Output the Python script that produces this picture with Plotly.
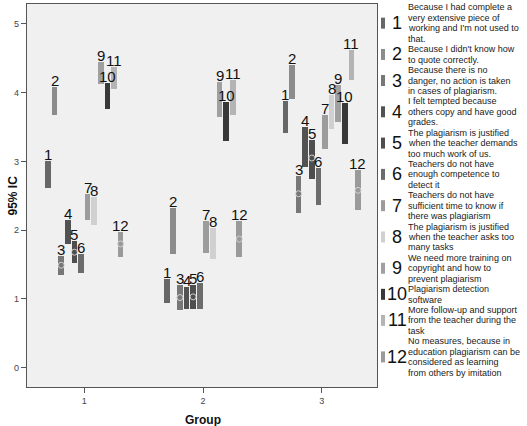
import plotly.graph_objects as go

# ---- data -------------------------------------------------------------
groups = [1, 2, 3]
item_ids = ["1", "2", "3", "4", "5", "6", "7", "8", "9", "10", "11", "12"]

ci_low_group1 = [2.62, 3.68, 1.35, 1.80, 1.52, 1.38, 2.15, 2.08, 4.13, 3.76, 4.05, 1.61]
ci_high_group1 = [3.01, 4.08, 1.63, 2.15, 1.85, 1.66, 2.53, 2.49, 4.45, 4.14, 4.38, 1.98]
ci_low_group2 = [0.94, 1.66, 0.84, 0.85, 0.85, 0.85, 1.67, 1.58, 3.64, 3.30, 3.68, 1.61]
ci_high_group2 = [1.29, 2.33, 1.21, 1.17, 1.20, 1.23, 2.14, 2.03, 4.16, 3.87, 4.18, 2.14]
ci_low_group3 = [3.41, 3.91, 2.25, 2.92, 2.75, 2.36, 3.18, 3.47, 3.57, 3.26, 4.18, 2.29]
ci_high_group3 = [3.88, 4.40, 2.79, 3.50, 3.31, 2.90, 3.68, 3.97, 4.11, 3.85, 4.62, 2.87]

# visible mean markers (item number -> mean per group)
mean_items = [3, 5, 12]
mean_group1 = [1.49, 1.68, 1.80]
mean_group2 = [1.02, 1.03, 1.87]
mean_group3 = [2.53, 3.05, 2.58]

legend_texts = [
    ["Because I had complete a", "very extensive piece of", "working and I'm not used to", "that."],
    ["Because I didn't know how", "to quote correctly."],
    ["Because there is no", "danger, no action is taken", "in cases of plagiarism."],
    ["I felt tempted because", "others copy and have good", "grades."],
    ["The plagiarism is justified", "when the teacher demands", "too much work of us."],
    ["Teachers do not have", "enough competence to", "detect it"],
    ["Teachers do not have", "sufficient time to know if", "there was plagiarism"],
    ["The plagiarism is justified", "when the teacher asks too", "many tasks"],
    ["We need more training on", "copyright and how to", "prevent plagiarism"],
    ["Plagiarism detection", "software"],
    ["More follow-up and support", "from the teacher during the", "task"],
    ["No measures, because in", "education plagiarism can be", "considered as learning",
     "from others by imitation"],
]

x_tick_labels = ["1", "2", "3"]
y_ticks = [0, 1, 2, 3, 4, 5]

# ---- styling ---------------------------------------------------------
colors = ["#676767", "#8c8c8c", "#777777", "#525252", "#4e4e4e", "#6c6c6c",
          "#9c9c9c", "#d0d0d0", "#a0a0a0", "#383838", "#b4b4b4", "#9a9a9a"]
FONT = "Liberation Sans, Arial, sans-serif"
W, H = 527, 426
ML, MR, MT, MB = 27, 150, 4, 39
SPACING = 0.0556
BAR_W = 0.048

lows = [ci_low_group1, ci_low_group2, ci_low_group3]
highs = [ci_high_group1, ci_high_group2, ci_high_group3]
means = [mean_group1, mean_group2, mean_group3]

fig = go.Figure()
annotations = []

for k, item in enumerate(item_ids):
    off = (k - 5.5) * SPACING
    xs = [g + off for g in groups]
    base = [lows[gi][k] for gi in range(3)]
    length = [highs[gi][k] - lows[gi][k] for gi in range(3)]
    fig.add_trace(go.Bar(
        x=xs, y=length, base=base, width=BAR_W,
        marker=dict(color=colors[k], line=dict(width=0)),
        showlegend=False, name=item,
    ))
    for gi in range(3):
        annotations.append(dict(
            x=xs[gi], y=highs[gi][k], xref="x", yref="y",
            text=item, showarrow=False, xanchor="center", yanchor="bottom",
            yshift=-4, font=dict(family=FONT, size=15, color="#111111"),
        ))

# mean markers
mx, my = [], []
for gi, g in enumerate(groups):
    for j, it in enumerate(mean_items):
        mx.append(g + (it - 1 - 5.5) * SPACING)
        my.append(means[gi][j])
fig.add_trace(go.Scatter(
    x=mx, y=my, mode="markers",
    marker=dict(symbol="circle-open", size=6, color="#cfcfcf", line=dict(width=1)),
    showlegend=False,
))

# ---- legend (manual, SPSS-style) -------------------------------------
plot_h = H - MT - MB
def py_to_paper(py):
    return (H - MB - py) / plot_h

line_pitch = 10.43
first_line = 7.5
line_idx = 0
shapes = []
for k, lines in enumerate(legend_texts):
    start = line_idx
    for ln in lines:
        py = first_line + line_idx * line_pitch
        annotations.append(dict(
            x=1, xref="paper", xshift=29, y=py_to_paper(py), yref="paper",
            text=ln, showarrow=False, xanchor="left", yanchor="middle",
            font=dict(family=FONT, size=9, color="#1a1a1a"),
        ))
        line_idx += 1
    center_py = first_line + (start + (len(lines) - 1) / 2) * line_pitch
    cy = py_to_paper(center_py)
    annotations.append(dict(
        x=1, xref="paper", xshift=20, y=cy, yref="paper",
        text=item_ids[k], showarrow=False, xanchor="center", yanchor="middle",
        font=dict(family=FONT, size=18, color="#111111"),
    ))
    shapes.append(dict(
        type="rect", xref="paper", yref="paper",
        xsizemode="pixel", ysizemode="pixel",
        xanchor=1, yanchor=cy, x0=4, x1=8, y0=-5.5, y1=5.5,
        fillcolor=colors[k], line=dict(width=0),
    ))

# axis titles
annotations.append(dict(
    x=0, xref="paper", xshift=-15, y=0.5, yref="paper", text="<b>95% IC</b>",
    textangle=-90, showarrow=False, xanchor="center", yanchor="middle",
    font=dict(family=FONT, size=12, color="#111111"),
))
annotations.append(dict(
    x=(2 - 0.517) / (3.466 - 0.517), xref="paper", y=0, yref="paper", yshift=-33,
    text="<b>Group</b>", showarrow=False, xanchor="center", yanchor="middle",
    font=dict(family=FONT, size=12, color="#111111"),
))

fig.update_layout(
    width=W, height=H,
    margin=dict(l=ML, r=MR, t=MT, b=MB, pad=0),
    paper_bgcolor="white", plot_bgcolor="#f0f0f0",
    barmode="overlay", bargap=0,
    annotations=annotations, shapes=shapes,
    font=dict(family=FONT),
    xaxis=dict(
        range=[0.517, 3.466], tickvals=groups, ticktext=x_tick_labels,
        showgrid=False, zeroline=False, showline=True, mirror=True,
        linecolor="#555555", linewidth=1.3, ticks="outside", ticklen=5,
        tickcolor="#555555", tickfont=dict(family=FONT, size=9, color="#444444"),
    ),
    yaxis=dict(
        range=[-0.281, 5.29], tickvals=y_ticks,
        showgrid=False, zeroline=False, showline=True, mirror=True,
        linecolor="#555555", linewidth=1.3, ticks="outside", ticklen=5,
        tickcolor="#555555", tickfont=dict(family=FONT, size=9, color="#444444"),
    ),
)

fig.write_html("out.html")
